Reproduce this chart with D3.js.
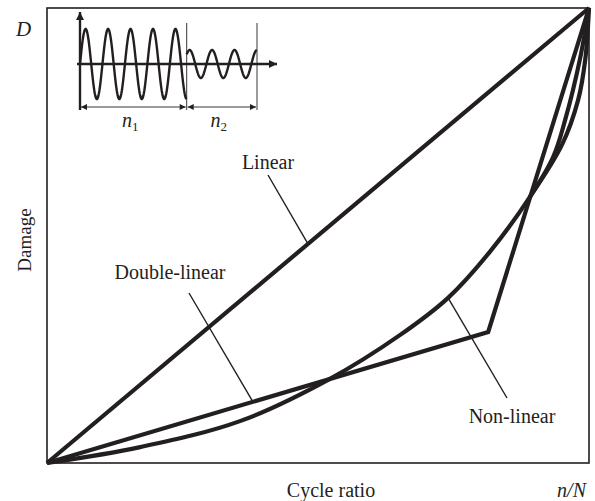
<!DOCTYPE html>
<html>
<head>
<meta charset="utf-8">
<script src="https://cdn.jsdelivr.net/npm/d3@7"></script>
<style>
  body { margin: 0; background: #fff; }
  text { font-family: "Liberation Serif", "Times New Roman", serif; fill: #231f20; }
</style>
</head>
<body>
<svg id="chart" width="595" height="501"></svg>
<script>
// damage accumulation models, D against n/N
const linear = [[0, 0], [1, 1]];
const doubleLinear = [[0, 0], [0.814, 0.288], [1, 1]];
const nonLinearX = [0, 0.172, 0.356, 0.522, 0.651, 0.740, 0.817, 0.891, 0.934, 0.956, 0.983, 1];
const nonLinearY = [0, 0.035, 0.092, 0.185, 0.281, 0.363, 0.464, 0.585, 0.673, 0.754, 0.886, 1];
// second stroke of the curve near the top corner
const upperX = [0.891, 0.950, 0.980, 0.993, 1];
const upperY = [0.585, 0.699, 0.798, 0.886, 1];

// two load blocks in the inset (cycles, relative amplitude, start phase)
const blockNames = ["1", "2"];
const blockCycles = [4.75, 3.13];
const blockAmps = [1, 0.4];
const blockPhase = [0, 0.12];

const ink = "#231f20";
const svg = d3.select("#chart");

const x = d3.scaleLinear().domain([0, 1]).range([47, 589]);
const y = d3.scaleLinear().domain([0, 1]).range([463, 8]);

// frame
svg.append("rect")
  .attr("x", x(0)).attr("y", y(1))
  .attr("width", x(1) - x(0)).attr("height", y(0) - y(1))
  .attr("fill", "none").attr("stroke", ink).attr("stroke-width", 1.6);

const line = d3.line().x(d => x(d[0])).y(d => y(d[1]));
const zip = (xs, ys) => xs.map((v, i) => [v, ys[i]]);

const curves = [
  { name: "Linear", pts: linear, curve: d3.curveLinear },
  { name: "Double-linear", pts: doubleLinear, curve: d3.curveLinear },
  { name: "Non-linear", pts: zip(nonLinearX, nonLinearY), curve: d3.curveCatmullRom },
  { name: "Non-linear upper", pts: zip(upperX, upperY), curve: d3.curveCatmullRom }
];

svg.append("g").selectAll("path")
  .data(curves)
  .join("path")
  .attr("d", d => line.curve(d.curve)(d.pts))
  .attr("fill", "none")
  .attr("stroke", ink)
  .attr("stroke-width", 4.2)
  .attr("stroke-linejoin", "miter");

// labels with leader lines (anchor is a point on the curve)
const notes = [
  { text: "Linear", tx: 268, ty: 169, lx: 268, ly: 175, at: [0.4815, 0.4815] },
  { text: "Double-linear", tx: 170, ty: 279, lx: 189, ly: 293, at: [0.38, 0.38 * 0.288 / 0.814] },
  { text: "Non-linear", tx: 512, ty: 423, lx: 507, ly: 398, at: [0.740, 0.363] }
];

const g = svg.append("g");
notes.forEach(n => {
  g.append("line")
    .attr("x1", n.lx).attr("y1", n.ly)
    .attr("x2", x(n.at[0])).attr("y2", y(n.at[1]))
    .attr("stroke", ink).attr("stroke-width", 1.4);
  g.append("text")
    .attr("x", n.tx).attr("y", n.ty)
    .attr("text-anchor", "middle")
    .attr("font-size", 20)
    .text(n.text);
});

// axis titles
svg.append("text").attr("x", 16).attr("y", 36)
  .attr("font-size", 21).attr("font-style", "italic").text("D");
svg.append("text")
  .attr("transform", "translate(31,240) rotate(-90)")
  .attr("text-anchor", "middle").attr("font-size", 19).text("Damage");
svg.append("text").attr("x", 331).attr("y", 497)
  .attr("text-anchor", "middle").attr("font-size", 20).text("Cycle ratio");
svg.append("text").attr("x", 586).attr("y", 497)
  .attr("text-anchor", "end").attr("font-size", 20).attr("font-style", "italic").text("n/N");

// inset: load history
const inset = svg.append("g");
const totalCycles = d3.sum(blockCycles);
const ix = d3.scaleLinear().domain([0, totalCycles]).range([80, 257]);
const iy = d3.scaleLinear().domain([-1, 1]).range([99, 29]);

let start = 0;
const bounds = [0];
blockCycles.forEach((c, i) => {
  const ts = d3.range(0, c + 0.001, 0.02);
  inset.append("path")
    .attr("d", d3.line()
      .x(t => ix(start + t))
      .y(t => iy(blockAmps[i] * Math.sin(2 * Math.PI * (t + blockPhase[i]))))(ts))
    .attr("fill", "none").attr("stroke", ink).attr("stroke-width", 2.4);
  start += c;
  bounds.push(start);
});

inset.append("defs").call(defs => {
  defs.append("marker").attr("id", "ah")
    .attr("viewBox", "0 0 10 10").attr("refX", 10).attr("refY", 5)
    .attr("markerWidth", 10).attr("markerHeight", 6).attr("orient", "auto-start-reverse")
    .attr("markerUnits", "userSpaceOnUse")
    .append("path").attr("d", "M0,0 L10,5 L0,10 z").attr("fill", ink);
  defs.append("marker").attr("id", "big")
    .attr("viewBox", "0 0 10 10").attr("refX", 10).attr("refY", 5)
    .attr("markerWidth", 12).attr("markerHeight", 8).attr("orient", "auto")
    .attr("markerUnits", "userSpaceOnUse")
    .append("path").attr("d", "M0,0 L10,5 L0,10 z").attr("fill", ink);
});

// axes of the inset
inset.append("line").attr("x1", ix(0)).attr("y1", 110).attr("x2", ix(0)).attr("y2", 12)
  .attr("stroke", ink).attr("stroke-width", 2.4).attr("marker-end", "url(#big)");
inset.append("line").attr("x1", 77).attr("y1", iy(0)).attr("x2", 277).attr("y2", iy(0))
  .attr("stroke", ink).attr("stroke-width", 2.4).attr("marker-end", "url(#big)");

// block boundaries and dimension lines
bounds.slice(1).forEach(b => {
  inset.append("line").attr("x1", ix(b)).attr("x2", ix(b)).attr("y1", 23).attr("y2", 110)
    .attr("stroke", ink).attr("stroke-width", 0.9);
});
blockNames.forEach((name, i) => {
  inset.append("line")
    .attr("x1", ix(bounds[i]) + 1).attr("x2", ix(bounds[i + 1]) - 1)
    .attr("y1", 107).attr("y2", 107)
    .attr("stroke", ink).attr("stroke-width", 0.9)
    .attr("marker-start", "url(#ah)").attr("marker-end", "url(#ah)");
  const cx = (ix(bounds[i]) + ix(bounds[i + 1])) / 2;
  const t = inset.append("text").attr("x", cx - 3).attr("y", 127)
    .attr("text-anchor", "middle").attr("font-size", 20);
  t.append("tspan").attr("font-style", "italic").text("n");
  t.append("tspan").attr("font-size", 13).attr("dy", 4).text(name);
});
</script>
</body>
</html>
